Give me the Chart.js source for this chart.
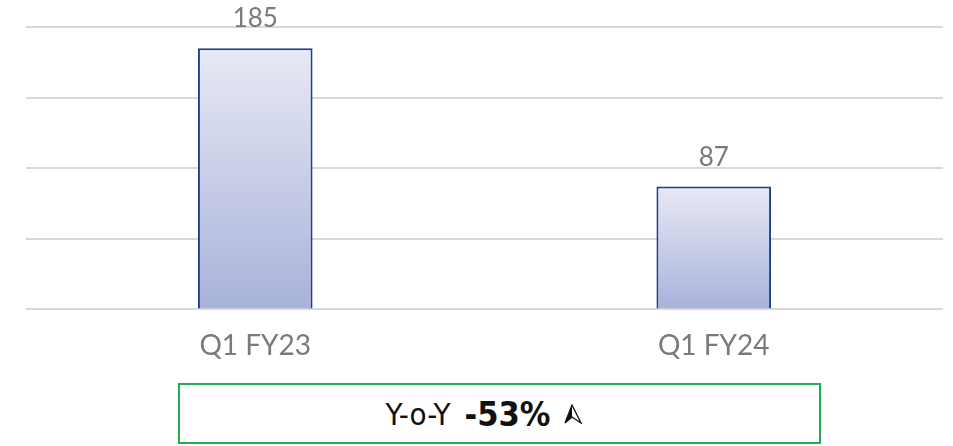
<!DOCTYPE html>
<html>
<head>
<meta charset="utf-8">
<script src="https://cdn.jsdelivr.net/npm/chart.js@4"></script>
<style>
  body { margin: 0; background: #fff; width: 953px; height: 446px; overflow: hidden; position: relative; }
  .wrap { position: absolute; left: 0; top: 0; width: 953px; height: 383px; }
  .yoy {
    position: absolute; left: 178px; top: 383px; width: 643px; height: 61px;
    box-sizing: border-box; background: #fff;
    border: 2px solid #22ad55;
    display: flex; align-items: center; justify-content: center;
    font-family: 'Liberation Sans Narrow', 'DejaVu Sans Condensed', sans-serif;
    color: #111; font-size: 31px;
    padding-right: 31px;
  }
  .yoy b { font-size: 34px; margin-left: 14px; margin-right: 14px; }
</style>
</head>
<body>
<div class="wrap"><canvas id="myChart"></canvas></div>
<div class="yoy"><span>Y-o-Y</span><b>-53%</b>
  <svg width="18" height="20" viewBox="0 0 18 20"><polygon points="8,1 17,19 8,13 1,19" fill="none" stroke="#111" stroke-width="1.3"/><polygon points="8,1 8,13 1,19" fill="#111"/></svg>
</div>
<script>
// data
const quarters = ['Q1 FY23', 'Q1 FY24'];
const values = [185, 87];
const yTicks = [0, 50, 100, 150, 200];

const ctx = document.getElementById('myChart');

// per bar gradient: light at top, darker at the base
function barFill(c) {
    const chart = c.chart;
    if (!chart.chartArea || !chart.scales.y) return '#c8cde8';
    const y = chart.scales.y;
    const top = y.getPixelForValue(values[c.dataIndex]);
    const base = y.getPixelForValue(0);
    const g = chart.ctx.createLinearGradient(0, top, 0, base);
    g.addColorStop(0, '#e8e9f5');
    g.addColorStop(1, '#a8b2da');
    return g;
}

// value labels above the bars
const topLabels = {
    id: 'topLabels',
    afterDatasetsDraw(chart) {
        const c = chart.ctx;
        const meta = chart.getDatasetMeta(0);
        c.save();
        c.font = '26px Lato, sans-serif';
        c.fillStyle = '#7a7a7a';
        c.textAlign = 'center';
        c.textBaseline = 'alphabetic';
        meta.data.forEach((bar, i) => {
            c.fillText(values[i], bar.x, bar.y - 21);
        });
        c.restore();
    }
};

new Chart(ctx, {
    type: 'bar',
    data: {
        labels: quarters,
        datasets: [{
            data: values,
            backgroundColor: barFill,
            borderColor: '#1d3f87',
            borderWidth: 2,
            borderSkipped: 'bottom',
            barPercentage: 0.5,
            categoryPercentage: 0.5,
        }]
    },
    options: {
        responsive: true,
        maintainAspectRatio: false,
        animation: false,
        layout: { padding: { left: 26, right: 10, top: 27, bottom: 0 } },
        plugins: { legend: { display: false }, tooltip: { enabled: false } },
        scales: {
            x: {
                grid: { display: false, drawTicks: false },
                border: { display: false },
                ticks: { color: '#7a7a7a', font: { family: 'Lato', size: 28 }, padding: 20 }
            },
            y: {
                min: 0,
                max: 200,
                afterBuildTicks: axis => { axis.ticks = yTicks.map(v => ({ value: v })); },
                ticks: { display: false },
                border: { display: false },
                grid: { color: '#d9d9d9', lineWidth: 2, drawTicks: false }
            }
        }
    },
    plugins: [topLabels]
});
</script>
</body>
</html>
